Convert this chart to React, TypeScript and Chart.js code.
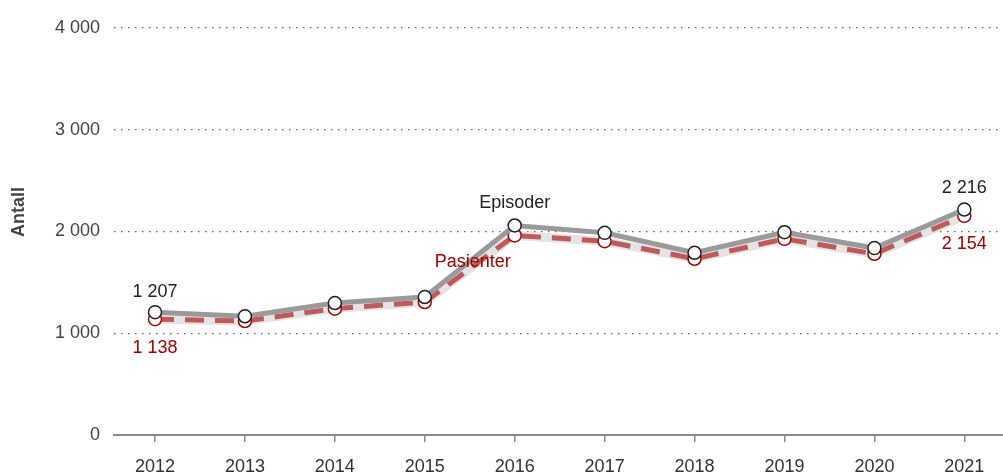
import React, { useEffect, useRef } from "react";
import { Chart, registerables } from "chart.js";

Chart.register(...registerables);

const years = [2012, 2013, 2014, 2015, 2016, 2017, 2018, 2019, 2020, 2021];
const episoder = [1207, 1167, 1297, 1356, 2059, 1987, 1791, 1993, 1837, 2216];
const pasienter = [1138, 1120, 1242, 1307, 1961, 1905, 1732, 1928, 1781, 2154];
const yTicks = [0, 1000, 2000, 3000, 4000];
const seriesNames = ["Episoder", "Pasienter"];
const yTitle = "Antall";

const FONT = "'Liberation Sans', Arial, sans-serif";
const fmt = (v: number) => String(Math.round(v)).replace(/\B(?=(\d{3})+(?!\d))/g, " ");

export default function App() {
  const ref = useRef<HTMLCanvasElement | null>(null);
  useEffect(() => {
    document.body.style.margin = "0";
    const labelPlugin = {
      id: "labels",
      afterDatasetsDraw(chart: any) {
        const ctx = chart.ctx;
        const xs = chart.scales.x;
        const ys = chart.scales.y;
        const last = years.length - 1;
        const i16 = years.indexOf(2016);
        ctx.save();
        ctx.font = `18px ${FONT}`;
        ctx.textAlign = "center";
        ctx.textBaseline = "middle";
        const dark = "#222222";
        const red = "#a00000";
        ctx.fillStyle = dark;
        ctx.fillText(fmt(episoder[0]), xs.getPixelForValue(years[0]), ys.getPixelForValue(episoder[0]) - 20);
        ctx.fillText(fmt(episoder[last]), xs.getPixelForValue(years[last]), ys.getPixelForValue(episoder[last]) - 21);
        ctx.fillText(seriesNames[0], xs.getPixelForValue(years[i16]), ys.getPixelForValue(episoder[i16]) - 22);
        ctx.fillStyle = red;
        ctx.fillText(fmt(pasienter[0]), xs.getPixelForValue(years[0]), ys.getPixelForValue(pasienter[0]) + 29);
        ctx.fillText(fmt(pasienter[last]), xs.getPixelForValue(years[last]), ys.getPixelForValue(pasienter[last]) + 28);
        ctx.fillText(seriesNames[1], xs.getPixelForValue(years[i16]) - 42, ys.getPixelForValue(pasienter[i16]) + 27);
        // y-axis title
        ctx.translate(19, 212);
        ctx.rotate(-Math.PI / 2);
        ctx.font = `bold 18px ${FONT}`;
        ctx.fillStyle = "#444444";
        ctx.fillText(yTitle, 0, 0);
        ctx.restore();
      },
    };
    const chart = new Chart(ref.current!, {
      type: "line",
      data: {
        datasets: [
          {
            label: seriesNames[0],
            data: years.map((y, i) => ({ x: y, y: episoder[i] })),
            borderColor: "#9a9a9a",
            borderWidth: 5,
            pointRadius: 6.5,
            pointBackgroundColor: "#ffffff",
            pointBorderColor: "#1e1e1e",
            pointBorderWidth: 1.5,
            tension: 0,
            order: 1,
          },
          {
            label: seriesNames[1],
            data: years.map((y, i) => ({ x: y, y: pasienter[i] })),
            borderColor: "#bf5a5a",
            borderWidth: 5,
            borderDash: [19, 11],
            pointRadius: 6.5,
            pointBackgroundColor: "#ffffff",
            pointBorderColor: "#a00000",
            pointBorderWidth: 1.5,
            tension: 0,
            order: 2,
          },
          {
            label: "bg",
            data: years.map((y, i) => ({ x: y, y: pasienter[i] })),
            borderColor: "#e4e4e4",
            borderWidth: 9,
            pointRadius: 0,
            tension: 0,
            order: 3,
          },
        ],
      },
      options: {
        animation: false,
        responsive: true,
        maintainAspectRatio: false,
        layout: { autoPadding: false, padding: { top: 28, right: 0, left: 0, bottom: 0 } },
        plugins: { legend: { display: false }, tooltip: { enabled: false } },
        scales: {
          x: {
            type: "linear",
            min: 2011.544,
            max: 2021.43,
            afterBuildTicks: (s: any) => {
              s.ticks = years.map((v) => ({ value: v }));
            },
            afterFit: (s: any) => {
              s.height = 40;
              s.paddingLeft = 0;
              s.paddingRight = 0;
            },
            grid: { drawOnChartArea: false, drawTicks: true, tickLength: 7, color: "#8a8a8a", lineWidth: 1.5 },
            border: { display: true, color: "#8a8a8a", width: 2 },
            ticks: {
              color: "#333333",
              font: { family: FONT, size: 18 },
              padding: 14,
              maxRotation: 0,
              autoSkip: false,
              callback: (v: any) => String(v),
            },
          },
          y: {
            min: 0,
            max: 4000,
            afterBuildTicks: (s: any) => {
              s.ticks = yTicks.map((v) => ({ value: v }));
            },
            afterFit: (s: any) => {
              s.width = 114;
            },
            grid: {
              drawTicks: false,
              color: (c: any) => (c.tick && c.tick.value === 0 ? "rgba(0,0,0,0)" : "#666666"),
              lineWidth: 1.2,
            },
            border: { display: false, dash: [1.5, 5.5] },
            ticks: {
              color: "#444444",
              font: { family: FONT, size: 18 },
              padding: 14,
              callback: (v: any) => fmt(Number(v)),
            },
          },
        },
      },
      plugins: [labelPlugin],
    });
    return () => chart.destroy();
  }, []);
  return (
    <div style={{ width: "1003px", height: "475px", position: "relative" }}>
      <canvas ref={ref} />
    </div>
  );
}
